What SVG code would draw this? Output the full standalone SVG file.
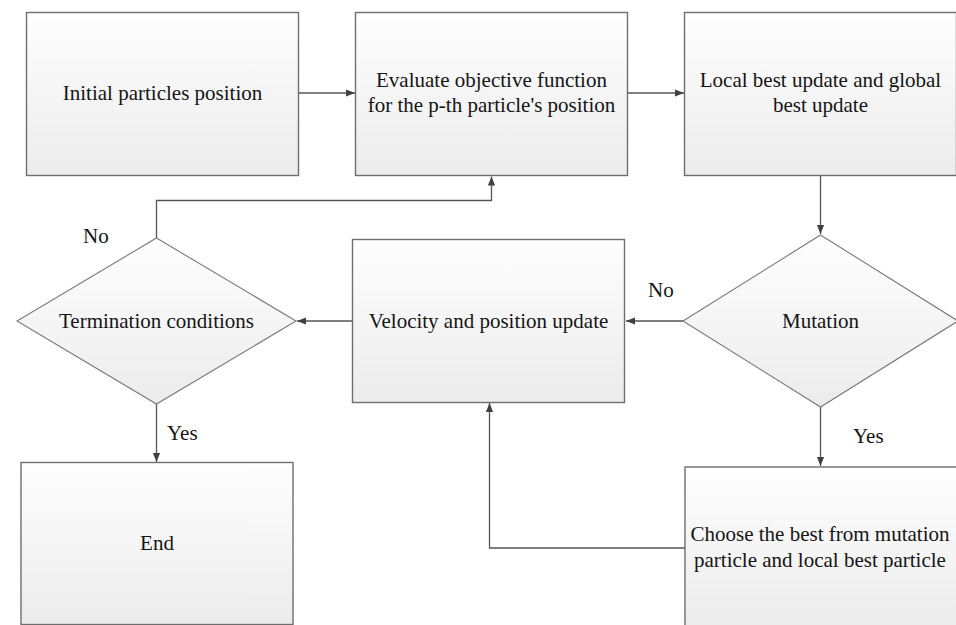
<svg xmlns="http://www.w3.org/2000/svg" width="956" height="625" viewBox="0 0 956 625">
<defs>
  <linearGradient id="g" x1="0" y1="0" x2="0" y2="1">
    <stop offset="0" stop-color="#fefefe"/>
    <stop offset="1" stop-color="#ececec"/>
  </linearGradient>
  <marker id="ah" viewBox="0 0 10 10" refX="10" refY="5" markerWidth="9" markerHeight="9" markerUnits="userSpaceOnUse" orient="auto">
    <path d="M0,1 L10,5 L0,9 Z" fill="#404040"/>
  </marker>
  <style>
    .box{fill:url(#g);stroke:#6e6e6e;stroke-width:1.4}
    .dia{fill:url(#g);stroke:#7a7a7a;stroke-width:1.1}
    .t{font-size:21px;fill:#151515;text-anchor:middle}
    .lbl{font-size:21px;fill:#151515}
    .c{fill:none;stroke:#555;stroke-width:1.3;marker-end:url(#ah)}
  </style>
</defs>
<rect width="956" height="625" fill="#ffffff"/>
<g id="connectors">
  <path class="c" d="M298,93 H355"/>
  <path class="c" d="M628,93 H684"/>
  <path class="c" d="M820.5,175.5 V234"/>
  <path class="c" d="M683,321 H626"/>
  <path class="c" d="M353,321 H297"/>
  <path class="c" d="M156.5,238 V200.5 H491.5 V176.5"/>
  <path class="c" d="M156.5,404 V462"/>
  <path class="c" d="M820.5,407 V466"/>
  <path class="c" d="M685,548 H489.5 V403"/>
</g>
<g font-family="Liberation Serif, serif">
<g id="n-initial">
  <rect class="box" x="26.5" y="12.5" width="272" height="163"/>
  <text class="t" x="162.5" y="100">Initial particles position</text>
</g>
<g id="n-evaluate">
  <rect class="box" x="355.5" y="12.5" width="272" height="163"/>
  <text class="t" x="491.5" y="87">Evaluate objective function</text>
  <text class="t" x="491.5" y="112">for the p-th particle's position</text>
</g>
<g id="n-local">
  <rect class="box" x="684.5" y="12.5" width="272" height="163"/>
  <text class="t" x="820.5" y="87">Local best update and global</text>
  <text class="t" x="820.5" y="111.5">best update</text>
</g>
<g id="n-mutation">
  <polygon class="dia" points="820.5,235 958,321 820.5,407 683,321"/>
  <text class="t" x="820.5" y="327.5">Mutation</text>
</g>
<g id="n-velocity">
  <rect class="box" x="352.5" y="239.5" width="272" height="163"/>
  <text class="t" x="488.5" y="327.5">Velocity and position update</text>
</g>
<g id="n-termination">
  <polygon class="dia" points="156.5,238 296,321 156.5,404 17,321"/>
  <text class="t" x="156.5" y="327.5">Termination conditions</text>
</g>
<g id="n-end">
  <rect class="box" x="21" y="462.5" width="272" height="162"/>
  <text class="t" x="157" y="550">End</text>
</g>
<g id="n-choose">
  <rect class="box" x="685" y="467" width="272" height="160"/>
  <text class="t" x="820" y="540.5">Choose the best from mutation</text>
  <text class="t" x="820" y="566.5">particle and local best particle</text>
</g>
<g id="labels">
  <text class="lbl" x="83" y="243">No</text>
  <text class="lbl" x="648" y="297">No</text>
  <text class="lbl" x="167" y="440">Yes</text>
  <text class="lbl" x="853" y="443">Yes</text>
</g>
</g>
</svg>
